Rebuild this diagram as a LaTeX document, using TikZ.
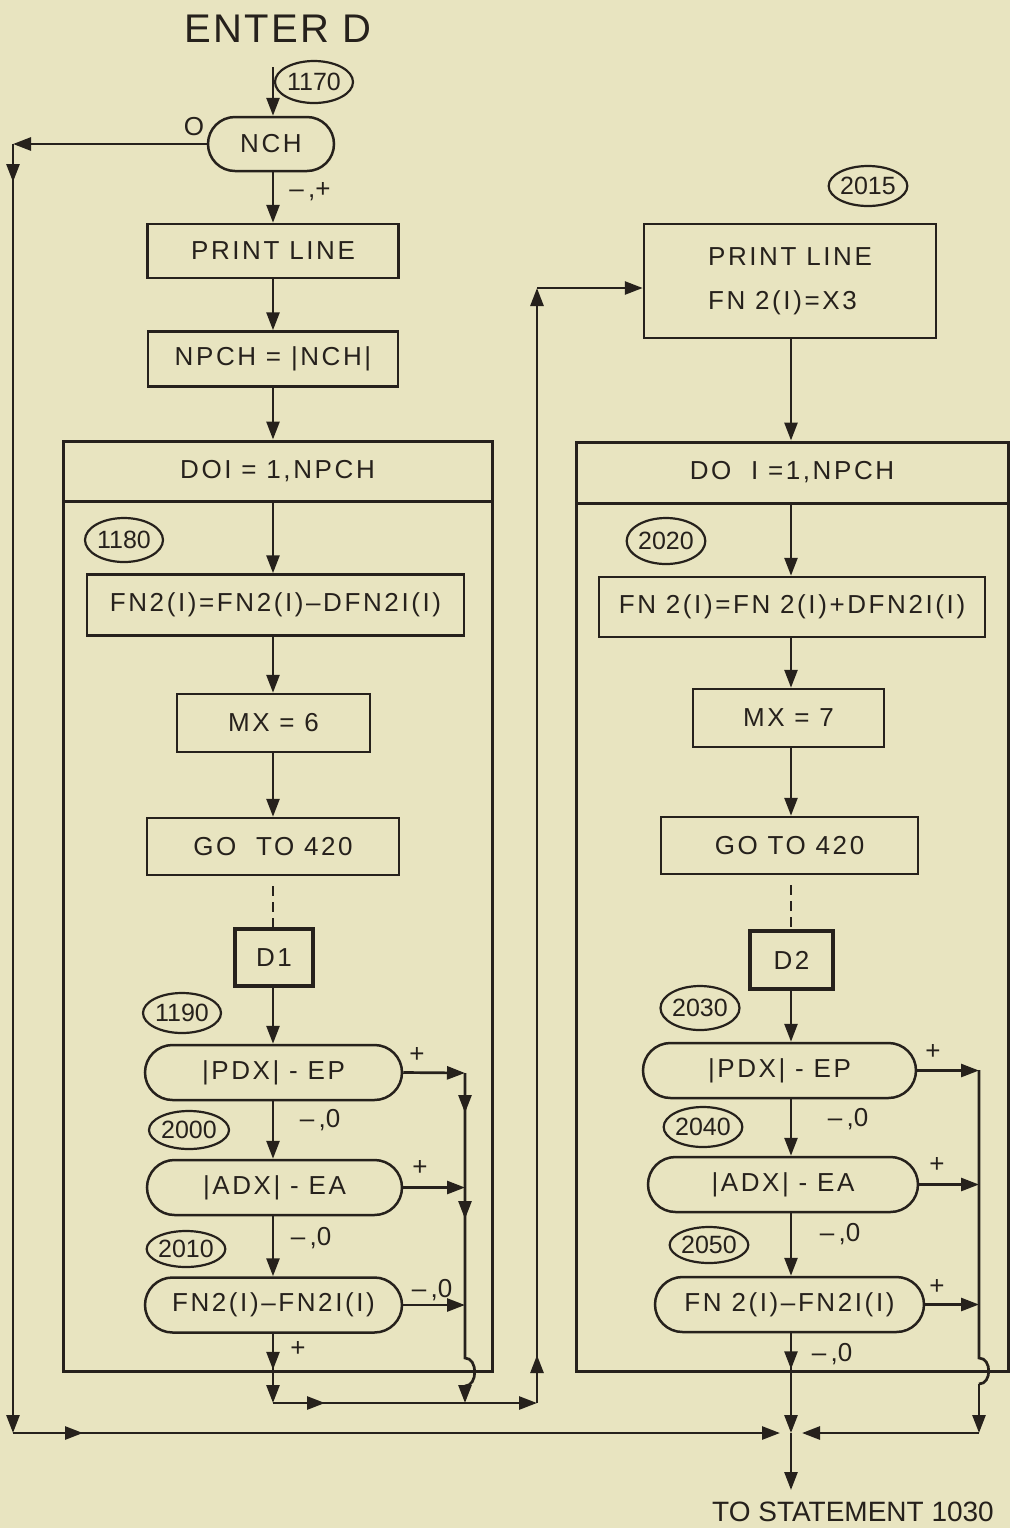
\documentclass[tikz,border=0pt]{standalone}
\usepackage{fontspec}
\setmainfont{Liberation Sans}
\newfontfamily\lettfont[LetterSpace=10]{Liberation Sans}
\newfontfamily\wideletter[LetterSpace=6]{Liberation Sans}
\newfontfamily\plainfont{Liberation Sans}
\usetikzlibrary{arrows.meta,shapes.geometric,shapes.misc,decorations.markings}
\definecolor{paper}{RGB}{232,228,192}
\definecolor{ink}{RGB}{38,33,28}
\tikzset{
  sz/.style 2 args={minimum width=#1*0.5pt, minimum height=#2*0.5pt},
  box/.style={draw=ink, line width=1.25pt, rectangle, inner sep=0pt, text=ink,
              font=\lettfont\fontsize{13}{22}\selectfont},
  thickbox/.style={box, line width=1.9pt},
  dobox/.style={box, line width=1.5pt},
  term/.style={draw=ink, line width=1.25pt, rounded rectangle, inner sep=0pt, text=ink,
              font=\lettfont\fontsize{13}{15}\selectfont},
  oval/.style={draw=ink, line width=1.1pt, ellipse, inner sep=0pt, text=ink,
              font=\plainfont\fontsize{12.5}{15}\selectfont},
  lbl/.style={inner sep=0pt, text=ink, font=\plainfont\fontsize{13}{15}\selectfont},
  line/.style={draw=ink, line width=1.35pt},
  tip/.style={line, -{Triangle[length=9pt,width=6.5pt]}},
  ah/.style={postaction={decorate,decoration={markings,
      mark=at position #1 with {\arrow{Triangle[length=9pt,width=6.5pt]}}}}},
  dashline/.style={line, dash pattern=on 5pt off 3pt},
}
\begin{document}
\begin{tikzpicture}[x=0.5pt,y=-0.5pt]
\fill[paper] (0,0) rectangle (1010,1528);
\useasboundingbox (0,0) rectangle (1010,1528);

% column references
\coordinate (colL) at (273,0);
\coordinate (colR) at (791,0);

% ---------- top ----------
\node[text=ink, font=\wideletter\fontsize{20}{24}\selectfont] (enter) at (278,29) {ENTER D};
\coordinate (in) at (273,67);
\node[oval, sz={78}{42}] (e1170) at (314,82) {1170};
\node[term, sz={126}{54}] (nch) at (271,144) {NCH};
\node[lbl] (l0) at (194,127) {O};
\node[lbl] (lmp) at (310,192) {–\,,+};
\node[box, sz={251}{54}] (pl1) at (273,251) {PRINT LINE};
\node[box, sz={250}{55}] (npch) at (273,359) {NPCH = |NCH|};

% ---------- left DO loop ----------
\node[dobox, sz={429}{60}] (doLh) at (277.5,471) {DOI = 1,NPCH};
\node[dobox, sz={429}{870}] (doLb) at (277.5,936) {};
\node[oval, sz={78}{44}] (e1180) at (124,540) {1180};
\node[box, sz={377}{61}] (fnL) at (275.5,605) {FN2(I)=FN2(I)–DFN2I(I)};
\node[box, sz={193}{58}] (mxL) at (273.5,723) {MX = 6};
\node[box, sz={252}{57}] (gotoL) at (273,846.5) {GO\ \ TO 420};
\node[thickbox, sz={78}{57}] (d1) at (274,957.5) {D1};
\node[oval, sz={78}{40}] (e1190) at (182,1013) {1190};
\node[term, sz={257}{55}] (pdxL) at (273.5,1072.5) {|PDX| - EP};
\node[oval, sz={80}{38}] (e2000) at (189,1130) {2000};
\node[lbl] (lL1) at (320,1120) {–\,,0};
\node[term, sz={255}{55}] (adxL) at (274.5,1187.5) {|ADX| - EA};
\node[oval, sz={78}{36}] (e2010) at (186,1249) {2010};
\node[lbl] (lL2) at (311,1238) {–\,,0};
\node[term, sz={257}{55}] (fn2L) at (273.5,1305) {FN2(I)–FN2I(I)};
\node[lbl] (lL3) at (432,1290) {–\,,0};
\node[lbl] (pL1) at (417,1055) {+};
\node[lbl] (pL2) at (420,1168) {+};
\node[lbl] (pL3) at (298,1349) {+};

% ---------- right column ----------
\node[oval, sz={76}{40}] (e2015) at (868,186) {2015};
\node[box, sz={292}{114}, align=left] (pl2) at (790,281) {PRINT LINE\\FN 2(I)=X3};
\node[dobox, sz={432}{61}] (doRh) at (792,472.5) {DO\ \ I =1,NPCH};
\node[dobox, sz={432}{868}] (doRb) at (792,937) {};
\node[oval, sz={78}{46}] (e2020) at (666,541) {2020};
\node[box, sz={386}{60}] (fnR) at (792,607) {FN 2(I)=FN 2(I)+DFN2I(I)};
\node[box, sz={191}{58}] (mxR) at (788.5,718) {MX = 7};
\node[box, sz={257}{57}] (gotoR) at (789.5,845.5) {GO TO 420};
\node[thickbox, sz={83}{58}] (d2) at (791.5,960) {D2};
\node[oval, sz={79}{44}] (e2030) at (700,1008) {2030};
\node[term, sz={273}{55}] (pdxR) at (779.5,1070.5) {|PDX| - EP};
\node[oval, sz={74}{40}] (e2040) at (703,1127) {2040};
\node[lbl] (lR1) at (848,1119) {–\,,0};
\node[term, sz={270}{55}] (adxR) at (783,1184.5) {|ADX| - EA};
\node[oval, sz={78}{36}] (e2050) at (709,1245) {2050};
\node[lbl] (lR2) at (840,1234) {–\,,0};
\node[term, sz={269}{55}] (fn2R) at (789.5,1304.5) {FN 2(I)–FN2I(I)};
\node[lbl] (lR3) at (832,1354) {–\,,0};
\node[lbl] (pR1) at (933,1052) {+};
\node[lbl] (pR2) at (937,1165) {+};
\node[lbl] (pR3) at (937,1287) {+};
\node[text=ink, inner sep=0pt, font=\plainfont\fontsize{14}{16}\selectfont] (tostmt) at (853,1512) {TO STATEMENT 1030};

% ---------- coordinates for routing ----------
\coordinate (c1) at (13,144);
\coordinate (c2) at (13,1433);
\coordinate (J) at (791,1433);
\coordinate (out) at (791,1490);
\coordinate (vL1) at (465,1073);
\coordinate (vLb1) at (465,1358);
\coordinate (vLb2) at (465,1386);
\coordinate (vL2) at (465,1403);
\coordinate (bL) at (273,1403);
\coordinate (bR) at (537,1403);
\coordinate (tR) at (537,288);
\coordinate (vR1) at (979,1070);
\coordinate (vRb1) at (979,1358);
\coordinate (vRb2) at (979,1384);
\coordinate (c3) at (979,1433);

% ---------- connectors: main flow ----------
\draw[tip] (in) -- (nch.north -| in);
\draw[tip] (nch.west) -- (c1);
\draw[tip, ah=19pt] (c1) -- (c2);
\draw[tip, ah=35pt, shorten >=5.5pt] (c2) -- (J);
\draw[tip] (nch.south -| colL) -- (pl1.north -| colL);
\draw[tip] (pl1.south -| colL) -- (npch.north -| colL);
\draw[tip] (npch.south -| colL) -- (doLh.north -| colL);
\draw[tip] (doLh.south -| colL) -- (fnL.north -| colL);
\draw[tip] (fnL.south -| colL) -- (mxL.north -| colL);
\draw[tip] (mxL.south -| colL) -- (gotoL.north -| colL);
\draw[dashline, shorten <=5pt] (gotoL.south -| colL) -- (d1.north -| colL);
\draw[tip] (d1.south -| colL) -- (pdxL.north -| colL);
\draw[tip] (pdxL.south -| colL) -- (adxL.north -| colL);
\draw[tip] (adxL.south -| colL) -- (fn2L.north -| colL);

% left exits
\draw[tip] (pdxL.east) -- (vL1);
\draw[tip] (adxL.east) -- (adxL.east -| vL1);
\draw[tip] (fn2L.east) -- (fn2L.east -| vL1);
\draw[line, ah=20pt, ah=73pt] (vL1) -- (vLb1) .. controls (478,1358) and (478,1386) .. (vLb2);
\draw[tip] (vLb2) -- (vL2);
\draw[tip, ah=18pt] (fn2L.south -| colL) -- (bL);
\draw[tip, ah=26pt] (bL) -- (bR);
\draw[tip, ah=24pt] (bR) -- (tR);
\draw[tip] (tR) -- (pl2.west |- tR);

% right column
\draw[tip] (pl2.south -| colR) -- (doRh.north -| colR);
\draw[tip] (doRh.south -| colR) -- (fnR.north -| colR);
\draw[tip] (fnR.south -| colR) -- (mxR.north -| colR);
\draw[tip] (mxR.south -| colR) -- (gotoR.north -| colR);
\draw[dashline, shorten <=5pt] (gotoR.south -| colR) -- (d2.north -| colR);
\draw[tip] (d2.south -| colR) -- (pdxR.north -| colR);
\draw[tip] (pdxR.south -| colR) -- (adxR.north -| colR);
\draw[tip] (adxR.south -| colR) -- (fn2R.north -| colR);

% right exits
\draw[tip] (pdxR.east) -- (pdxR.east -| vR1);
\draw[tip] (adxR.east) -- (adxR.east -| vR1);
\draw[tip] (fn2R.east) -- (fn2R.east -| vR1);
\draw[line] (vR1) -- (vRb1) .. controls (992,1358) and (992,1384) .. (vRb2);
\draw[tip] (vRb2) -- (c3);
\draw[tip, shorten >=5.5pt] (c3) -- (J);
\draw[tip, ah=18pt] (fn2R.south -| colR) -- (J);
\draw[tip] (J) -- (out);
\end{tikzpicture}
\end{document}
